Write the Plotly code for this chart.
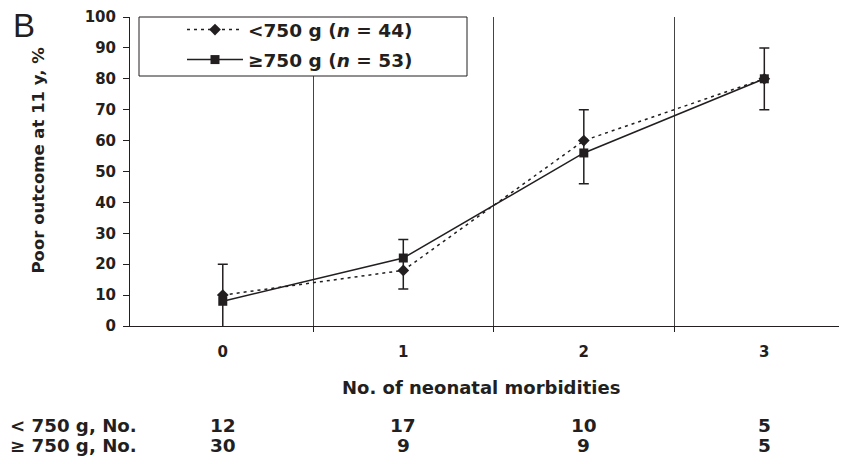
import plotly.graph_objects as go

# ---- data ----
categories = [0, 1, 2, 3]
tick_labels = ["0", "1", "2", "3"]
lt750_pct = [10, 18, 60, 80]
ge750_pct = [8, 22, 56, 80]
ci_low = [-2, 12, 46, 70]
ci_high = [20, 28, 70, 90]
lt750_n = [12, 17, 10, 5]
ge750_n = [30, 9, 9, 5]
y_ticks = list(range(0, 101, 10))
row_labels = ["< 750 g, No.", "\u2265 750 g, No."]
series_names = ["&lt;750 g (<i>n</i> = 44)", "\u2265750 g (<i>n</i> = 53)"]

INK = "#231f20"
FONT = "DejaVu Sans"
boundaries = [c + 0.5 for c in categories[:-1]]

PLOT_W, PLOT_H = 717, 309   # plot area size in px (used for legend frame placement)

fig = go.Figure()

# confidence bars
fig.add_trace(go.Scatter(
    x=categories, y=ci_low, mode="markers",
    marker=dict(size=1, opacity=0),
    error_y=dict(type="data", symmetric=False,
                 array=[h - l for h, l in zip(ci_high, ci_low)],
                 arrayminus=[0] * len(ci_low),
                 color=INK, thickness=1.5, width=5),
    showlegend=False, hoverinfo="skip", cliponaxis=False,
))

fig.add_trace(go.Scatter(
    x=categories, y=lt750_pct, mode="lines+markers", name=series_names[0],
    legendgroup="a",
    line=dict(color=INK, width=1.5, dash="3px,4px"),
    marker=dict(symbol="diamond", size=9, color=INK),
    cliponaxis=False,
))
fig.add_trace(go.Scatter(
    x=categories, y=ge750_pct, mode="lines+markers", name=series_names[1],
    legendgroup="b",
    line=dict(color=INK, width=1.5),
    marker=dict(symbol="square", size=9, color=INK),
    cliponaxis=False,
))

annotations = [
    dict(text="B", xref="paper", yref="paper", x=0, y=1, xanchor="left", yanchor="top",
         xshift=-130 + 11, yshift=12, showarrow=False,
         font=dict(family="Liberation Sans", size=33, color=INK)),
    dict(text="Poor outcome at 11 y, %", xref="paper", yref="paper", x=0, y=0.5,
         xanchor="center", yanchor="middle", xshift=-92, yshift=11, textangle=-90,
         showarrow=False,
         font=dict(family=FONT, size=16.5, color=INK, weight="bold")),
    dict(text="No. of neonatal morbidities", xref="paper", yref="paper", x=0.49, y=0,
         xanchor="center", yanchor="middle", yshift=-61, showarrow=False,
         font=dict(family=FONT, size=18, color=INK, weight="bold")),
]
for r, (lab, counts) in enumerate(zip(row_labels, [lt750_n, ge750_n])):
    ys = -99 - 20 * r
    annotations.append(dict(text=lab, xref="paper", yref="paper", x=0, y=0,
                            xanchor="left", yanchor="middle", xshift=-122, yshift=ys,
                            showarrow=False,
                            font=dict(family=FONT, size=18.2, color=INK, weight="bold")))
    for c, n in zip(categories, counts):
        annotations.append(dict(text=str(n), xref="x", yref="paper", x=c, y=0,
                                xanchor="center", yanchor="middle", yshift=ys,
                                showarrow=False,
                                font=dict(family=FONT, size=18.5, color=INK, weight="bold")))

# legend frame (decoration): px 139..467 horizontally, 17..76 vertically
legend_frame = dict(type="rect", xref="paper", yref="paper", layer="above",
                    x0=9 / PLOT_W, x1=337 / PLOT_W, y0=1 - 59 / PLOT_H, y1=1,
                    line=dict(color=INK, width=1), fillcolor="white")

# the page body adds an 8px offset; margins compensate so the plot lands in place
fig.update_layout(
    width=847, height=464,
    margin=dict(l=122, r=8, t=9, b=146, autoexpand=False),
    paper_bgcolor="white", plot_bgcolor="white",
    showlegend=True,
    shapes=[legend_frame],
    legend=dict(x=52 / PLOT_W, y=1 + 6 / PLOT_H, xanchor="left", yanchor="top",
                bgcolor="rgba(0,0,0,0)", borderwidth=0,
                itemwidth=56, traceorder="grouped", tracegroupgap=3,
                font=dict(family=FONT, size=18.5, color=INK, weight="bold")),
    xaxis=dict(range=[-0.514, 3.458], tickmode="array", tickvals=categories,
               ticktext=tick_labels, ticks="", showgrid=False, zeroline=False,
               showline=True, linecolor=INK, linewidth=1, automargin=False,
               tickfont=dict(family=FONT, size=15, color=INK, weight="bold"),
               ticklabelstandoff=12,
               minor=dict(tickmode="array", tickvals=boundaries, ticks="outside",
                          ticklen=5, tickcolor=INK, tickwidth=1,
                          showgrid=True, gridcolor="#444444", gridwidth=1)),
    yaxis=dict(range=[0, 100], tickmode="array", tickvals=y_ticks,
               ticks="outside", ticklen=6, tickcolor=INK, showline=True,
               linecolor=INK, linewidth=1, showgrid=False, zeroline=False,
               automargin=False,
               tickfont=dict(family=FONT, size=15, color=INK, weight="bold"),
               ticklabelstandoff=4),
    annotations=annotations,
)

fig.write_html("out.html")
